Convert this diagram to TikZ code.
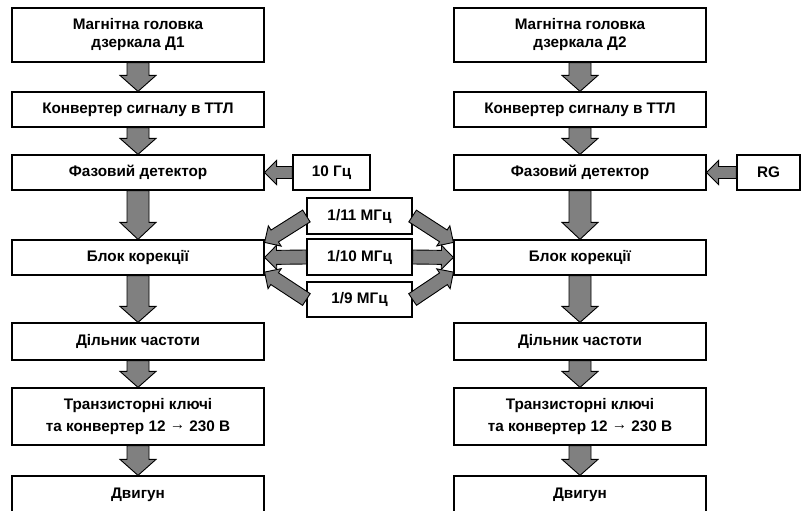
\documentclass[tikz,border=0pt]{standalone}
\usepackage{fontspec}
\setmainfont{Liberation Sans}
\usetikzlibrary{calc}
\definecolor{arrowgray}{RGB}{128,128,128}

\begin{document}
\begin{tikzpicture}[x=10pt,y=10pt,blok/.style={draw,line width=1.2pt,minimum width=252pt,minimum height=35pt,inner sep=0pt,align=center,font=\bfseries\fontsize{15.3}{18}\selectfont},strilka/.style={draw=black,line width=0.9pt,fill=arrowgray,line join=miter}]
\useasboundingbox (0,0) rectangle (80.1,-51.1);
% left chain
\node[blok,minimum height=54pt] (g1) at (13.8,-3.5) {Магнітна головка\\дзеркала Д1};
\node[blok] (k1) at (13.8,-10.95) {Конвертер сигналу в ТТЛ};
\node[blok] (f1) at (13.8,-17.25) {Фазовий детектор};
\node[blok] (b1) at (13.8,-25.75) {Блок корекції};
\node[blok,minimum height=37pt] (d1) at (13.8,-34.15) {Дільник частоти};
\node[blok,minimum height=57pt,font=\bfseries\fontsize{15.3}{22}\selectfont] (t1) at (13.8,-41.65) {Транзисторні ключі\\та конвертер 12 \raisebox{1.5pt}{→} 230 В};
\node[blok,minimum height=38pt] (m1) at (13.8,-49.5) {Двигун};
% right chain
\node[blok,minimum height=54pt] (g2) at (58,-3.5) {Магнітна головка\\дзеркала Д2};
\node[blok] (k2) at (58,-10.95) {Конвертер сигналу в ТТЛ};
\node[blok] (f2) at (58,-17.25) {Фазовий детектор};
\node[blok] (b2) at (58,-25.75) {Блок корекції};
\node[blok,minimum height=37pt] (d2) at (58,-34.15) {Дільник частоти};
\node[blok,minimum height=57pt,font=\bfseries\fontsize{15.3}{22}\selectfont] (t2) at (58,-41.65) {Транзисторні ключі\\та конвертер 12 \raisebox{1.5pt}{→} 230 В};
\node[blok,minimum height=38pt] (m2) at (58,-49.5) {Двигун};
% references
\node[blok,minimum width=77pt] (h10) at (33.15,-17.25) {10 Гц};
\node[blok,minimum width=63pt] (rg) at (76.85,-17.25) {RG};
\node[blok,minimum width=105pt,minimum height=36pt] (m11) at (35.95,-21.6) {1/11 МГц};
\node[blok,minimum width=105pt,minimum height=36pt] (m10) at (35.95,-25.7) {1/10 МГц};
\node[blok,minimum width=105pt] (m9) at (35.95,-29.95) {1/9 МГц};
\coordinate (b1t) at ([yshift=-3pt]b1.north east);
\coordinate (b1b) at ([yshift=3.5pt]b1.south east);
\coordinate (b2t) at ([yshift=-3pt]b2.north west);
\coordinate (b2b) at ([yshift=3.5pt]b2.south west);
% block arrows
\foreach \p/\q/\w/\hw/\hl in {g1.south/k1.north/11/18/16,k1.south/f1.north/11/18/16,f1.south/b1.north/11/18/17,b1.south/d1.north/11/18/16,d1.south/t1.north/11/18/16,t1.south/m1.north/11/18/16,g2.south/k2.north/11/18/16,k2.south/f2.north/11/18/16,f2.south/b2.north/11/18/17,b2.south/d2.north/11/18/16,d2.south/t2.north/11/18/16,t2.south/m2.north/11/18/16,h10.west/f1.east/6/12/12,rg.west/f2.east/6/12/12,m11.west/b1t/7/12/12,m10.west/b1.east/7/12/12,m9.west/b1b/7/12/12,m11.east/b2t/7/12/12,m10.east/b2.west/7/12/12,m9.east/b2b/7/12/12}{
\coordinate (a) at (\p); \coordinate (z) at (\q);
\coordinate (c) at ($(z)!\hl pt!(a)$);
\draw[strilka] ($(a)!\w pt!90:(z)$) -- ($(c)!\w pt!90:(z)$) -- ($(c)!\hw pt!90:(z)$) -- (z) -- ($(c)!\hw pt!-90:(z)$) -- ($(c)!\w pt!-90:(z)$) -- ($(a)!\w pt!-90:(z)$) -- cycle;}
\end{tikzpicture}
\end{document}
